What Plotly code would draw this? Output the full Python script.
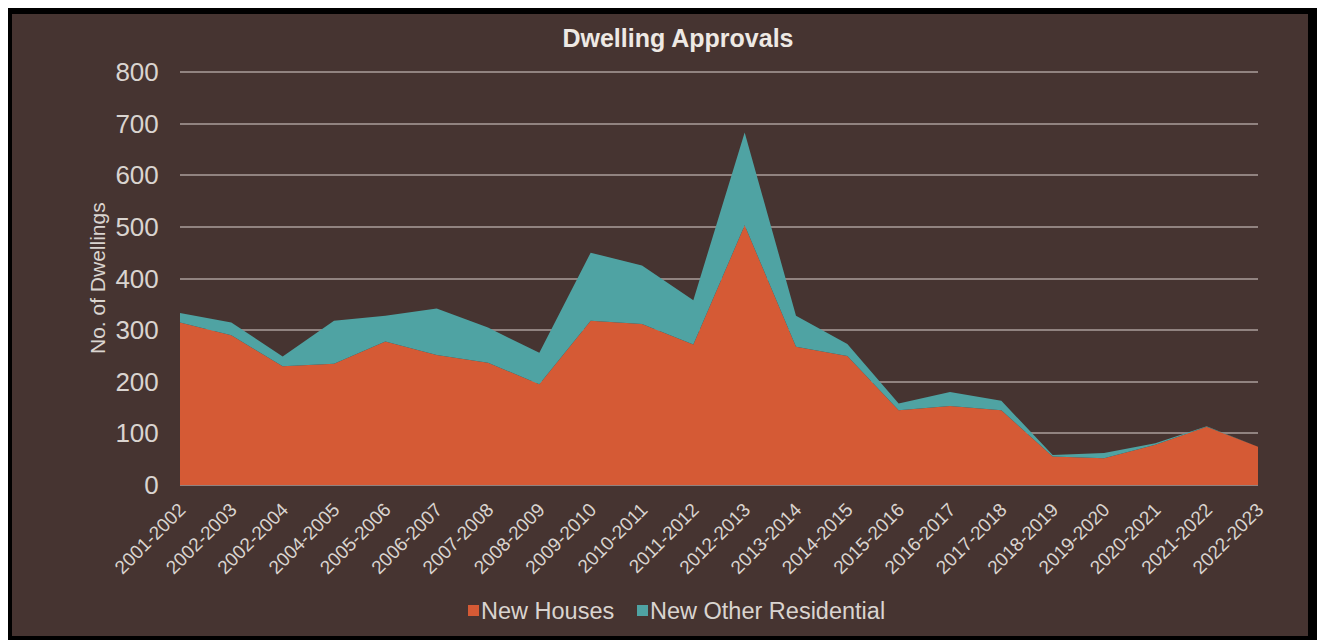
import plotly.graph_objects as go

years = ["2001-2002", "2002-2003", "2002-2004", "2004-2005", "2005-2006", "2006-2007",
         "2007-2008", "2008-2009", "2009-2010", "2010-2011", "2011-2012", "2012-2013",
         "2013-2014", "2014-2015", "2015-2016", "2016-2017", "2017-2018", "2018-2019",
         "2019-2020", "2020-2021", "2021-2022", "2022-2023"]
new_houses = [315, 290, 230, 235, 278, 252, 237, 195, 318, 312, 272, 503,
              268, 250, 145, 153, 145, 55, 52, 78, 113, 74]
new_other_residential = [18, 25, 19, 83, 50, 90, 68, 61, 132, 113, 86, 180,
                         60, 23, 13, 27, 18, 3, 10, 3, 1, 0]
y_ticks = [0, 100, 200, 300, 400, 500, 600, 700, 800]
series_names = ["New Houses", "New Other Residential"]

BROWN = "#463431"
ORANGE = "#D55A35"
TEAL = "#4FA3A3"
TXT = "#DAD4D0"
OFF = 8  # page body margin
PAD = 2  # extra px of axis range above/below so edge gridlines render
W, H = 1325 - OFF, 640 - OFF
# plot area in reference (page) pixels: x 180..1258, y 72..485
ML, MR, MT, MB = 180 - OFF, 1325 - 1258, 72 - OFF - PAD, 640 - 485 - PAD
PW, PH = W - ML - MR, H - MT - MB
UNIT = (485 - 72) / 800.0
YPAD = PAD / UNIT


def px_x(p):
    return (p - OFF - ML) / PW


def px_y(p):
    return (H - MB - (p - OFF)) / PH


fig = go.Figure()
fig.add_trace(go.Scatter(x=years, y=new_houses, name=series_names[0], stackgroup="one",
                         mode="lines", line=dict(width=0, color=ORANGE), fillcolor=ORANGE,
                         showlegend=False))
fig.add_trace(go.Scatter(x=years, y=new_other_residential, name=series_names[1],
                         stackgroup="one", mode="lines", line=dict(width=0, color=TEAL),
                         fillcolor=TEAL, showlegend=False))

shapes = [
    dict(type="rect", xref="paper", yref="paper", x0=px_x(0), x1=px_x(1325), y0=px_y(0), y1=px_y(650),
         fillcolor="black", line=dict(width=0), layer="below"),
    dict(type="rect", xref="paper", yref="paper", x0=px_x(1317), x1=px_x(1330), y0=px_y(30), y1=px_y(650),
         fillcolor="#D9C3A6", line=dict(width=0), layer="below"),
    dict(type="rect", xref="paper", yref="paper", x0=px_x(12), x1=px_x(1308), y0=px_y(14), y1=px_y(636),
         fillcolor=BROWN, line=dict(width=0), layer="below"),
]

# custom legend: swatch squares + labels
annotations = [dict(text="No. of Dwellings", textangle=-90, xref="paper", yref="paper",
                    x=px_x(97), y=px_y(278), xanchor="center", yanchor="middle",
                    showarrow=False, font=dict(size=21, color=TXT))]
legend_items = [(series_names[0], ORANGE, 468), (series_names[1], TEAL, 637)]
for name, col, x0 in legend_items:
    shapes.append(dict(type="rect", xref="paper", yref="paper",
                       x0=px_x(x0), x1=px_x(x0 + 11), y0=px_y(605), y1=px_y(616),
                       fillcolor=col, line=dict(width=0), layer="above"))
    annotations.append(dict(text=name, xref="paper", yref="paper", x=px_x(x0 + 12),
                            y=px_y(611), xanchor="left", yanchor="middle", showarrow=False,
                            borderpad=0, font=dict(size=23.5, color=TXT)))

fig.update_layout(
    width=W, height=H,
    margin=dict(l=ML, r=MR, t=MT, b=MB),
    paper_bgcolor="black",
    plot_bgcolor="rgba(0,0,0,0)",
    shapes=shapes,
    font=dict(family="Liberation Sans, Arial, sans-serif", color=TXT),
    title=dict(text="<b>Dwelling Approvals</b>", x=(678 - OFF) / W, xanchor="center",
               y=1 - (38 - OFF) / H, yanchor="middle", font=dict(size=25, color="#EEE9E4")),
    showlegend=False,
    annotations=annotations,
)
fig.update_xaxes(type="category", range=[0, len(years) - 1], tickangle=-45,
                 tickfont=dict(size=19, color=TXT), showgrid=False, showline=False,
                 ticks="outside", ticklen=3, tickcolor="rgba(0,0,0,0)", zeroline=False)
fig.update_yaxes(range=[-YPAD, 800 + YPAD], tickvals=y_ticks, tickfont=dict(size=26, color=TXT),
                 showgrid=True, gridcolor="#918380", gridwidth=1.5, zeroline=False,
                 ticks="outside", ticklen=15, tickcolor="rgba(0,0,0,0)")

fig.write_html("out.html")
